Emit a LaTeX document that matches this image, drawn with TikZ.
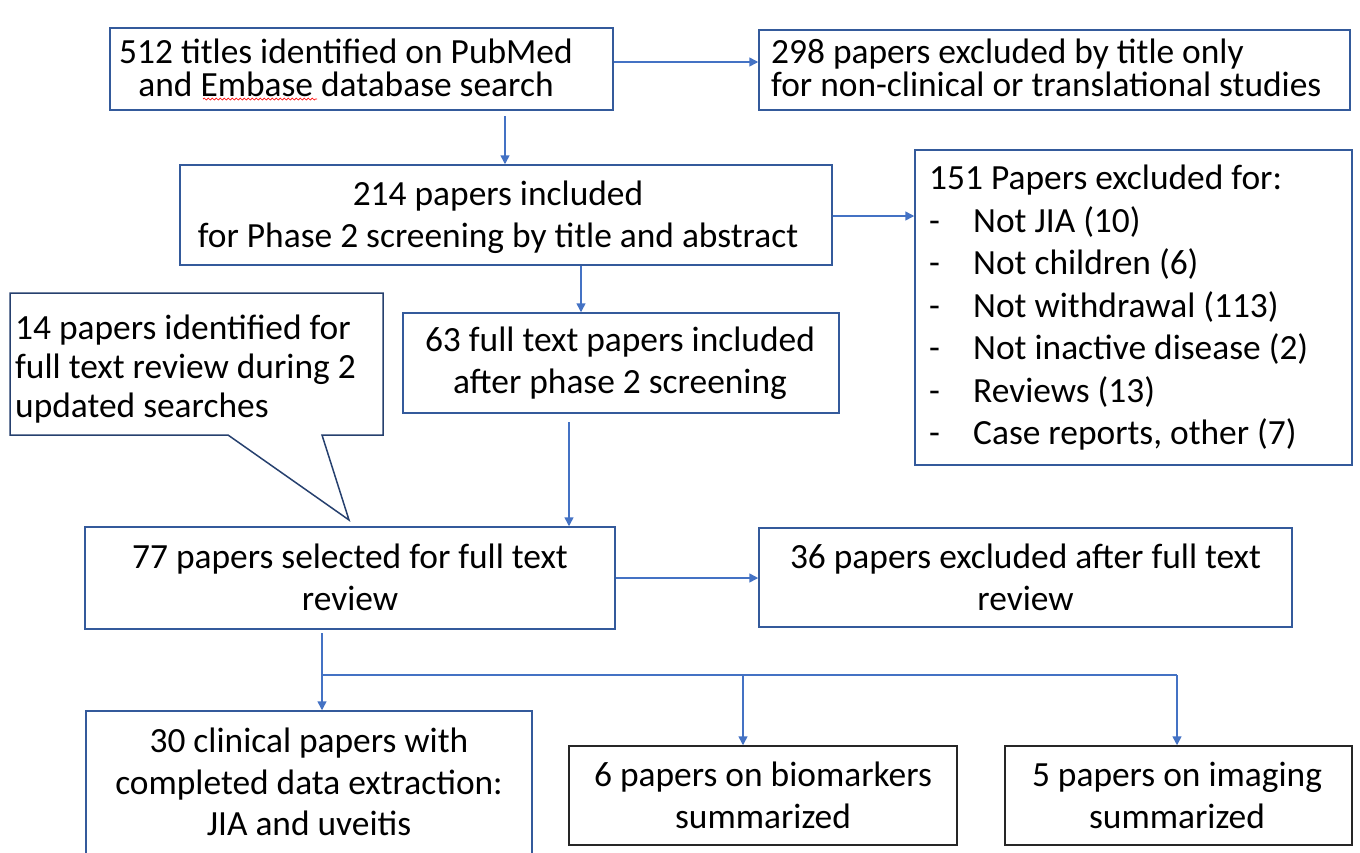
\documentclass[tikz,border=0pt]{standalone}
\usepackage{fontspec}
\setmainfont{Carlito}
\usetikzlibrary{arrows.meta,decorations.pathmorphing}
\definecolor{boxblue}{RGB}{52,90,155}
\definecolor{arrblue}{RGB}{68,114,196}
\definecolor{navy}{RGB}{38,64,110}
\begin{document}
\begin{tikzpicture}[x=1pt,y=-1pt,
  box/.style={draw=boxblue,line width=1.5pt,inner sep=0pt},
  blackbox/.style={draw=black!85,line width=1.5pt,inner sep=0pt},
  txt/.style={inner sep=0pt,font=\fontsize{35.4}{42}\selectfont},
  arr/.style={draw=arrblue,line width=1.5pt,-{Triangle[length=9pt,width=9pt]}},
  conn/.style={draw=arrblue,line width=1.5pt}]
\useasboundingbox (0,0) rectangle (1360,852);
% boxes
\node[box,minimum width=503pt,minimum height=82pt] (b1) at (361.5,69) {};
\node[box,minimum width=591pt,minimum height=80pt] (b2) at (1054.5,70) {};
\node[box,minimum width=652pt,minimum height=100pt] (b3) at (506,215) {};
\node[box,minimum width=437pt,minimum height=315pt] (b4) at (1133.5,307.5) {};
\node[box,minimum width=436pt,minimum height=100pt] (b5) at (621,363) {};
\node[box,minimum width=530pt,minimum height=102pt] (b6) at (350,578) {};
\node[box,minimum width=533pt,minimum height=99pt] (b7) at (1025.5,577.5) {};
\node[box,minimum width=446pt,minimum height=169pt] (b8) at (309,795.5) {};
\node[blackbox,minimum width=388pt,minimum height=99pt] (b9) at (763,795.5) {};
\node[blackbox,minimum width=347pt,minimum height=99pt] (b10) at (1178.5,795.5) {};
% callout
\draw[navy,line width=1.5pt,line join=miter] (10,293) -- (383,293) -- (383,435) -- (322,435) -- (349,520) -- (228,435) -- (10,435) -- cycle;
% texts
\node[txt,align=center,font=\fontsize{35.4}{33}\selectfont] (t1) at (346,68) {512 titles identified on PubMed\\and Embase database search};
\draw[red,line width=0.7pt,decorate,decoration={snake,amplitude=1pt,segment length=4pt}] (203,99) -- (317,99);
\node[txt,align=left,anchor=west,font=\fontsize{35.4}{33}\selectfont] (t2) at (771,68) {298 papers excluded by title only\\for non-clinical or translational studies};
\node[txt,align=center] (t3) at (498,217) {214 papers included\\ for Phase 2 screening by title and abstract};
\node[txt,align=left,anchor=west,font=\fontsize{35.4}{42.5}\selectfont] (t4) at (929,308) {151 Papers excluded for:\\
\makebox[44pt][l]{-}Not JIA (10)\\
\makebox[44pt][l]{-}Not children (6)\\
\makebox[44pt][l]{-}Not withdrawal (113)\\
\makebox[44pt][l]{-}Not inactive disease (2)\\
\makebox[44pt][l]{-}Reviews (13)\\
\makebox[44pt][l]{-}Case reports, other (7)};
\node[txt,align=center] (t5) at (620,363) {63 full text papers included\\after phase 2 screening};
\node[txt,align=left,anchor=west,font=\fontsize{35.4}{39}\selectfont] (tc) at (15,369) {14 papers identified for\\full text review during 2\\updated searches};
\node[txt,align=center] (t6) at (350,577) {77 papers selected for full text\\review};
\node[txt,align=center] (t7) at (1025.5,577) {36 papers excluded after full text\\review};
\node[txt,align=center,font=\fontsize{35.4}{41.5}\selectfont] (t8) at (309,782) {30 clinical papers with\\completed data extraction:\\JIA and uveitis};
\node[txt,align=center] (t9) at (763,795) {6 papers on biomarkers\\summarized};
\node[txt,align=center] (t10) at (1177,795) {5 papers on imaging\\summarized};
% connectors
\coordinate (h1) at (0,62);
\draw[arr] (b1.east|-h1) -- (b2.west|-h1);
\coordinate (v1) at (505,116);
\draw[arr] (v1) -- (v1|-b3.north);
\coordinate (h2) at (0,216);
\draw[arr] (b3.east|-h2) -- (b4.west|-h2);
\coordinate (v2) at (581,0);
\draw[arr] (b3.south-|v2) -- (b5.north-|v2);
\coordinate (v3) at (569,422);
\draw[arr] (v3) -- (v3|-b6.north);
\draw[arr] (b6.east) -- (b6.east-|b7.west);
\coordinate (v4) at (322,633);
\draw[arr] (v4) -- (v4|-b8.north);
\coordinate (j1) at (322,675);
\coordinate (j2) at (1177,675);
\coordinate (j3) at (743,675);
\draw[conn] (j1) -- (j2);
\draw[arr] (j3) -- (j3|-b9.north);
\draw[arr] (j2) -- (j2|-b10.north);
\end{tikzpicture}
\end{document}
